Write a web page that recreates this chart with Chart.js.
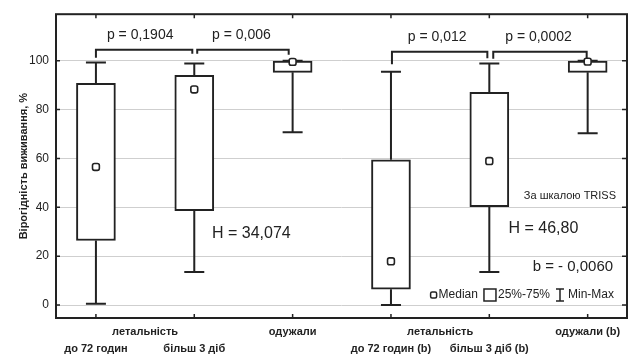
<!DOCTYPE html>
<html>
<head>
<meta charset="utf-8">
<script src="https://cdn.jsdelivr.net/npm/chart.js@4.4.1/dist/chart.umd.min.js"></script>
<style>
  html, body { margin: 0; padding: 0; background: #fff; }
  #wrap { width: 634px; height: 356px; }
</style>
</head>
<body>
<div id="wrap"><canvas id="chart" width="634" height="356"></canvas></div>
<script>
// ─── data ──────────────────────────────────────────────────
const categories = ['до 72 годин', 'більш 3 діб', 'одужали', 'до 72 годин (b)', 'більш 3 діб (b)', 'одужали (b)'];
const labelRow   = [2, 2, 1, 2, 2, 1];
const groupLabel = 'летальність';
const groupPos   = [0.5, 3.5];

const minVals    = [0.5, 13.5, 70.7, 0.0, 13.5, 70.3];
const q1Vals     = [26.4, 38.6, 95.2, 6.5, 40.2, 95.2];
const medianVals = [56.5, 88.2, 99.5, 17.9, 58.9, 99.6];
const q3Vals     = [90.7, 94.0, 99.8, 59.4, 87.0, 99.8];
const maxVals    = [99.2, 98.8, 100, 95.5, 98.8, 100];

const yTicks = [0, 20, 40, 60, 80, 100];

// brackets between groups (x in category units, y in %)
const bracketFrom  = [0, 1.03, 3.01, 4.04];
const bracketTo    = [0.98, 1.96, 3.98, 4.99];
const bracketTop   = [104.5, 104.5, 103.6, 103.6];
const bracketLeft  = [101.2, 102.8, 98.5, 100.8];
const bracketRight = [102.8, 102.4, 101.0, 100.8];

const pTexts = ['p = 0,1904', 'p = 0,006', 'p = 0,012', 'p = 0,0002'];
const pX     = [0.45, 1.48, 3.47, 4.5];
const pY     = [110.6, 110.6, 109.8, 109.8];

const noteTexts = ['H = 34,074', 'H = 46,80', 'b = - 0,0060', 'За шкалою TRISS'];
const noteX     = [1.58, 4.55, 4.85, 4.82];
const noteY     = [29.3, 31.4, 15.6, 44.7];
const noteSize  = [16, 16, 15, 11];

const legendTexts = ['Median', '25%-75%', 'Min-Max'];

const yTitle = 'Вірогідність виживання, %';

// ─── drawing ───────────────────────────────────────────────
const INK = '#222';
const FONT = '"Liberation Sans", Arial, sans-serif';

const decor = {
  id: 'decor',
  beforeDatasetsDraw(chart) {
    const { ctx, scales: { x, y } } = chart;
    ctx.save();
    ctx.strokeStyle = INK;
    ctx.lineWidth = 2;
    categories.forEach((c, i) => {
      const px = x.getPixelForValue(i);
      ctx.beginPath();
      ctx.moveTo(px, y.getPixelForValue(q3Vals[i]));
      ctx.lineTo(px, y.getPixelForValue(maxVals[i]));
      ctx.moveTo(px, y.getPixelForValue(q1Vals[i]));
      ctx.lineTo(px, y.getPixelForValue(minVals[i]));
      [maxVals[i], minVals[i]].forEach(v => {
        const py = y.getPixelForValue(v);
        ctx.moveTo(px - 10, py);
        ctx.lineTo(px + 10, py);
      });
      ctx.stroke();
    });
    ctx.restore();
  },
  afterDatasetsDraw(chart) {
    const { ctx, chartArea: a, scales: { x, y } } = chart;
    ctx.save();
    ctx.strokeStyle = INK;
    ctx.fillStyle = INK;

    // frame
    ctx.lineWidth = 2;
    ctx.strokeRect(a.left, a.top, a.right - a.left, a.bottom - a.top);

    // inner tick marks
    ctx.lineWidth = 1.5;
    ctx.beginPath();
    categories.forEach((c, i) => {
      const px = x.getPixelForValue(i);
      ctx.moveTo(px, a.top); ctx.lineTo(px, a.top + 4);
      ctx.moveTo(px, a.bottom); ctx.lineTo(px, a.bottom - 4);
    });
    yTicks.forEach(v => {
      const py = y.getPixelForValue(v);
      ctx.moveTo(a.right, py); ctx.lineTo(a.right - 5, py);
      ctx.moveTo(a.left, py); ctx.lineTo(a.left + 4, py);
    });
    ctx.stroke();

    // brackets
    ctx.lineWidth = 2;
    bracketFrom.forEach((f, i) => {
      const x1 = x.getPixelForValue(f), x2 = x.getPixelForValue(bracketTo[i]);
      ctx.beginPath();
      ctx.moveTo(x1, y.getPixelForValue(bracketLeft[i]));
      ctx.lineTo(x1, y.getPixelForValue(bracketTop[i]));
      ctx.lineTo(x2, y.getPixelForValue(bracketTop[i]));
      ctx.lineTo(x2, y.getPixelForValue(bracketRight[i]));
      ctx.stroke();
    });

    // p values and notes
    ctx.textAlign = 'center';
    ctx.textBaseline = 'middle';
    ctx.font = `14px ${FONT}`;
    pTexts.forEach((t, i) => ctx.fillText(t, x.getPixelForValue(pX[i]), y.getPixelForValue(pY[i])));
    noteTexts.forEach((t, i) => {
      ctx.font = `${noteSize[i]}px ${FONT}`;
      ctx.fillText(t, x.getPixelForValue(noteX[i]), y.getPixelForValue(noteY[i]));
    });

    // legend
    ctx.font = `12px ${FONT}`;
    ctx.textAlign = 'left';
    const w = legendTexts.map(t => ctx.measureText(t).width);
    const total = 8 + w[0] + 6 + 14 + w[1] + 6 + 12 + w[2];
    let lx = a.right - 13 - total;
    const ly = a.bottom - 23;
    ctx.lineWidth = 1.5;
    ctx.fillStyle = '#fff';
    ctx.beginPath(); ctx.roundRect(lx, ly - 3, 6, 6, 1.5); ctx.fill(); ctx.stroke();
    ctx.fillStyle = INK;
    lx += 8; ctx.fillText(legendTexts[0], lx, ly);
    lx += w[0] + 6;
    ctx.strokeRect(lx, ly - 6, 12, 12);
    lx += 14; ctx.fillText(legendTexts[1], lx, ly);
    lx += w[1] + 6;
    ctx.beginPath();
    ctx.moveTo(lx, ly - 6); ctx.lineTo(lx + 8, ly - 6);
    ctx.moveTo(lx + 4, ly - 6); ctx.lineTo(lx + 4, ly + 6);
    ctx.moveTo(lx, ly + 6); ctx.lineTo(lx + 8, ly + 6);
    ctx.stroke();
    lx += 12; ctx.fillText(legendTexts[2], lx, ly);

    // category labels, two staggered rows
    ctx.font = `bold 11px ${FONT}`;
    ctx.textAlign = 'center';
    const rowY = { 1: a.bottom + 14, 2: a.bottom + 31 };
    categories.forEach((c, i) => ctx.fillText(c, x.getPixelForValue(i), rowY[labelRow[i]]));
    groupPos.forEach(g => ctx.fillText(groupLabel, x.getPixelForValue(g), rowY[1]));
    ctx.restore();
  }
};

new Chart(document.getElementById('chart'), {
  type: 'bar',
  data: {
    datasets: [
      {
        type: 'bar',
        data: categories.map((c, i) => ({ x: i, y: [q1Vals[i], q3Vals[i]] })),
        backgroundColor: '#fff',
        borderColor: INK,
        borderWidth: 2,
        borderSkipped: false,
        barThickness: 39,
        order: 2
      },
      {
        type: 'scatter',
        data: medianVals.map((v, i) => ({ x: i, y: v })),
        pointStyle: 'rectRounded',
        radius: 4,
        backgroundColor: '#fff',
        borderColor: INK,
        borderWidth: 1.6,
        order: 0
      }
    ]
  },
  options: {
    responsive: false,
    devicePixelRatio: 1,
    animation: false,
    layout: { padding: { top: 12, right: 7, left: 0, bottom: 0 } },
    plugins: { legend: { display: false }, tooltip: { enabled: false } },
    scales: {
      x: {
        type: 'linear', min: -0.406, max: 5.4, offset: false,
        grid: { display: false }, border: { display: false },
        ticks: { display: false },
        afterFit(s) { s.height = 38; }
      },
      y: {
        min: -5.3, max: 119,
        afterBuildTicks(s) { s.ticks = yTicks.map(v => ({ value: v })); },
        grid: { color: '#cfcfcf', lineWidth: 1, drawTicks: false },
        border: { display: false },
        ticks: { padding: 7, color: INK, autoSkip: false, font: { size: 12, family: FONT } },
        title: { display: true, text: yTitle, color: INK, font: { size: 11, weight: 'bold', family: FONT }, padding: { top: 17, bottom: 0 } },
        afterFit(s) { s.width = 56; }
      }
    }
  },
  plugins: [decor]
});
</script>
</body>
</html>
